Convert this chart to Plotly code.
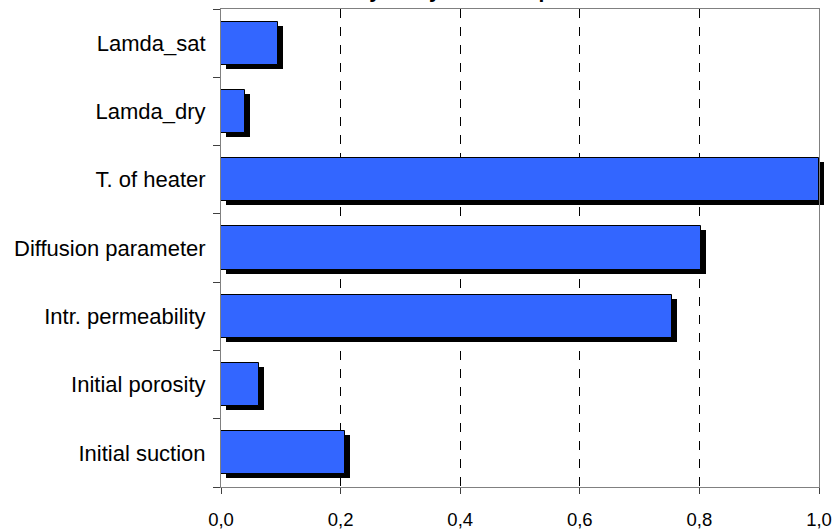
import plotly.graph_objects as go

# Data (bottom to top)
categories = ["Initial suction", "Initial porosity", "Intr. permeability",
              "Diffusion parameter", "T. of heater", "Lamda_dry", "Lamda_sat"]
sensitivity = [0.207, 0.063, 0.754, 0.803, 1.0, 0.040, 0.095]
x_ticks = [0.0, 0.2, 0.4, 0.6, 0.8, 1.0]
title_text = "Sensitivity analysis of temperature"

W, H = 835, 531
L, T, B = 221, 9, 44
plot_w = 598.5                 # pixel width of the value axis 0..1
extra = 6                      # room for the shadow beyond 1.0
R = W - L - plot_w - extra
plot_h = H - T - B
n = len(categories)
shadow_dx = 5 / plot_w         # shadow offset right (axis-range shift)
shadow_dy = 4 / plot_h * n     # shadow offset down

fig = go.Figure()

# Shadow bars (drawn first, on hidden, slightly shifted axes)
fig.add_trace(go.Bar(
    x=sensitivity, y=categories, orientation="h",
    marker=dict(color="black", line=dict(width=0)),
    width=0.63, xaxis="x", yaxis="y", hoverinfo="skip", showlegend=False,
))

# Main bars
fig.add_trace(go.Bar(
    x=sensitivity, y=categories, orientation="h",
    marker=dict(color="#3366FF", line=dict(color="black", width=1)),
    width=0.63, xaxis="x2", yaxis="y2", showlegend=False,
))

font_family = "Liberation Sans, Arial, sans-serif"
bar_dom = plot_w / (plot_w + extra)

fig.update_layout(
    width=W, height=H,
    margin=dict(l=L, r=R, t=T, b=B, autoexpand=False),
    paper_bgcolor="white", plot_bgcolor="rgba(0,0,0,0)",
    separators=",.",
    bargap=0,
    hovermode=False,
    font=dict(family=font_family, color="black"),
    xaxis=dict(visible=False, domain=[0, 1], anchor="y",
               range=[-shadow_dx, -shadow_dx + (plot_w + extra) / plot_w],
               automargin=False),
    yaxis=dict(visible=False, domain=[0, 1], anchor="x",
               range=[-0.5 + shadow_dy, n - 0.5 + shadow_dy],
               categoryorder="array", categoryarray=categories, automargin=False),
    xaxis2=dict(
        domain=[0, bar_dom], anchor="y2", side="bottom", range=[0, 1],
        tickvals=x_ticks, tickformat=".1f",
        showgrid=True, gridcolor="black", griddash="dash", gridwidth=1,
        zeroline=False, automargin=False,
        showline=True, linecolor="#808080", linewidth=1, mirror=True,
        ticks="outside", ticklen=6, tickcolor="#404040",
        tickfont=dict(size=18.5, family=font_family),
        ticklabelstandoff=10,
    ),
    yaxis2=dict(
        domain=[0, 1], anchor="x2", side="left", range=[-0.5, n - 0.5],
        categoryorder="array", categoryarray=categories,
        showgrid=False, zeroline=False, automargin=False,
        showline=True, linecolor="#808080", linewidth=1, mirror=True,
        ticks="outside", tickson="boundaries", ticklen=7, tickcolor="#404040",
        tickfont=dict(size=22, family=font_family),
        ticklabelstandoff=10,
    ),
    annotations=[dict(
        text="<b>" + title_text + "</b>",
        xref="x2", yref="paper", x=0.382, y=1, yanchor="bottom",
        yshift=5, showarrow=False,
        font=dict(size=21, family=font_family, color="black"),
    )],
)

fig.write_html("out.html", config={"displayModeBar": False},
               post_script="document.body.style.margin='0px';")
